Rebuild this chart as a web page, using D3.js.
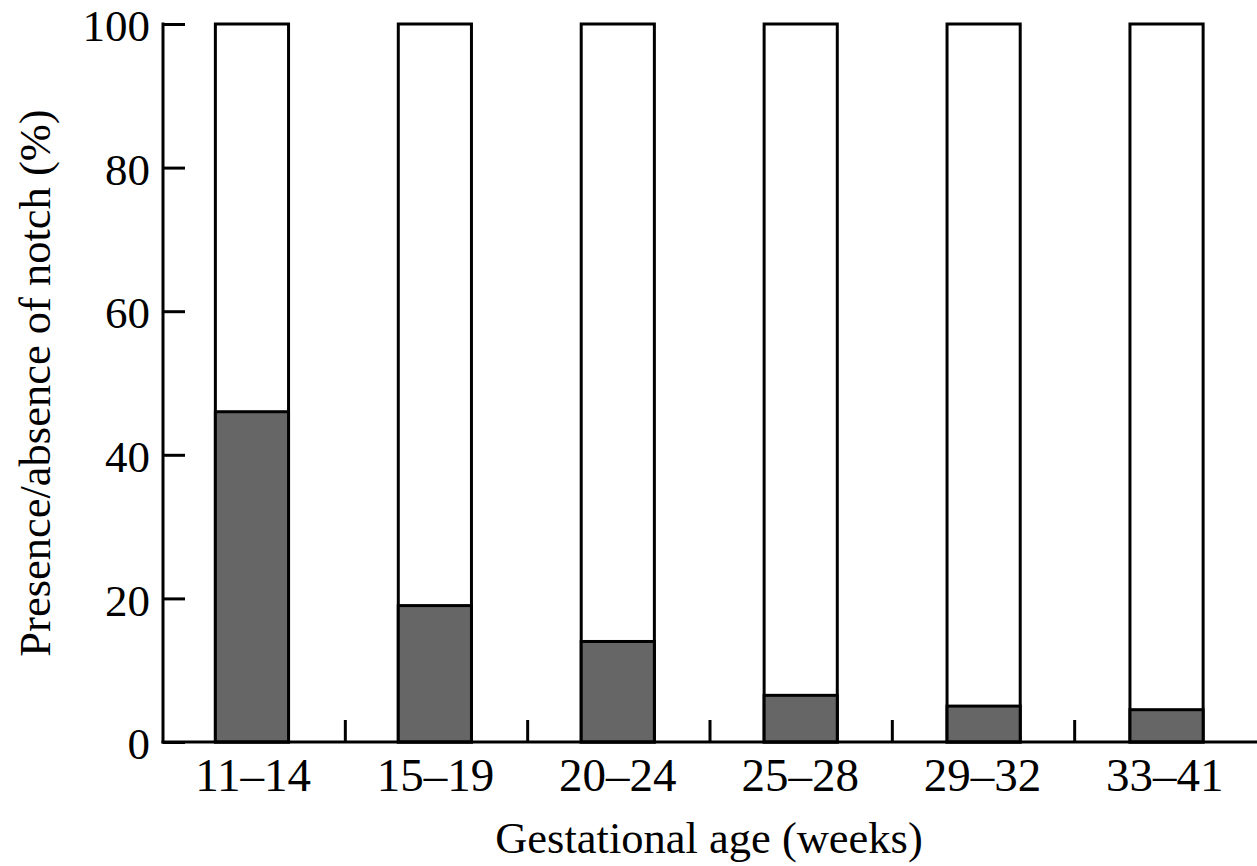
<!DOCTYPE html>
<html><head><meta charset="utf-8">
<script src="https://cdn.jsdelivr.net/npm/d3@7"></script>
<style>body{margin:0;background:#fff}svg{display:block}text{font-family:"Liberation Serif","DejaVu Serif",serif;fill:#000}</style>
</head><body>
<svg id="c" width="1257" height="866"></svg>
<script>
const categories = ["11\u201314","15\u201319","20\u201324","25\u201328","29\u201332","33\u201341"];
const presence = [46, 19, 14, 6.5, 5, 4.5];
const total = [100, 100, 100, 100, 100, 100];
const yTicks = [0, 20, 40, 60, 80, 100];
const xTitle = "Gestational age (weeks)";
const yTitle = "Presence/absence of notch (%)";

const svg = d3.select("#c");
const L = 163, R = 1257, T = 24, B = 742;
const x = d3.scaleBand().domain(categories).range([L - 2.5, R + 1]).paddingInner(0.6).paddingOuter(0.3);
const xb = d3.scaleBand().domain(categories).range([L, R]);
const y = d3.scaleLinear().domain([0, 100]).range([B, T]);

const g = svg.append("g");
g.selectAll("rect.tot").data(categories).join("rect")
  .attr("x", d => x(d)).attr("width", x.bandwidth())
  .attr("y", (d,i) => y(total[i])).attr("height", (d,i) => y(0) - y(total[i]))
  .attr("fill", "#fff").attr("stroke", "#000").attr("stroke-width", 3);
g.selectAll("rect.pre").data(categories).join("rect")
  .attr("x", d => x(d)).attr("width", x.bandwidth())
  .attr("y", (d,i) => y(presence[i])).attr("height", (d,i) => y(0) - y(presence[i]))
  .attr("fill", "#666").attr("stroke", "#000").attr("stroke-width", 3);

const ya = svg.append("g").attr("transform", `translate(${L},0)`)
  .call(d3.axisRight(y).tickValues(yTicks).tickSize(22).tickFormat(d3.format("d")));
ya.select(".domain").remove();
ya.selectAll(".tick line").attr("stroke", "#000").attr("stroke-width", 3);
ya.selectAll(".tick text").attr("x", -13).attr("text-anchor", "end").attr("dy", "0.37em")
  .style("font-size", "45px");
svg.append("line").attr("x1", L).attr("x2", L).attr("y1", T - 1.5).attr("y2", B + 1.5)
  .attr("stroke", "#000").attr("stroke-width", 3);

const boundaries = categories.slice(1).map(c => xb(c));
const xa = svg.append("g");
xa.selectAll("line.t").data(boundaries).join("line")
  .attr("x1", d => d).attr("x2", d => d).attr("y1", B).attr("y2", B - 22)
  .attr("stroke", "#000").attr("stroke-width", 3);
svg.append("line").attr("x1", L - 1.5).attr("x2", R).attr("y1", B).attr("y2", B)
  .attr("stroke", "#000").attr("stroke-width", 3);
xa.selectAll("text").data(categories).join("text")
  .attr("x", d => xb(d) + xb.bandwidth()/2 - 1).attr("y", 791)
  .attr("text-anchor", "middle").style("font-size", "47px").text(d => d);

svg.append("text").attr("x", 709).attr("y", 853).attr("text-anchor", "middle")
  .style("font-size", "44.5px").text(xTitle);
svg.append("text").attr("transform", `translate(50,${(T+B)/2}) rotate(-90)`)
  .attr("text-anchor", "middle").style("font-size", "44.5px").text(yTitle);
</script>
</body></html>
